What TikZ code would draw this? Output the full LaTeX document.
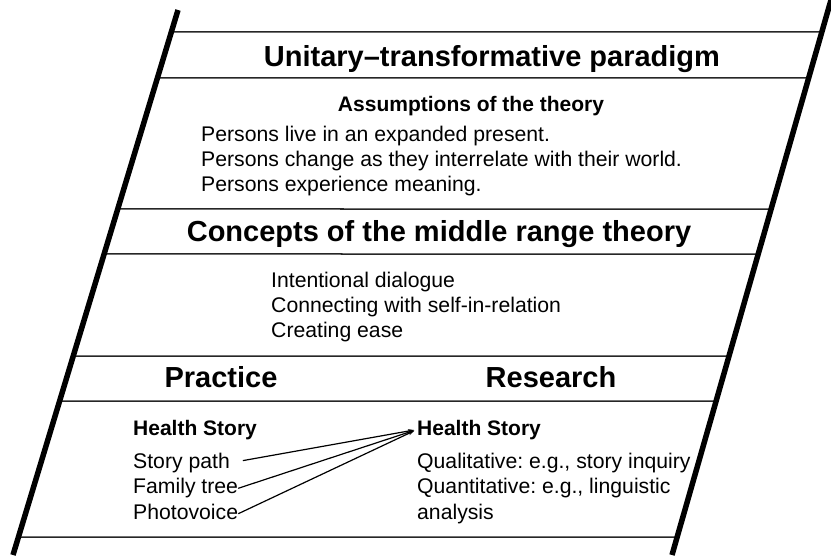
\documentclass[tikz,border=0pt]{standalone}
\usepackage{fontspec}
\setmainfont{Liberation Sans}
\usetikzlibrary{positioning,calc,arrows.meta}
\frenchspacing

\begin{document}
\begin{tikzpicture}[x=1pt,y=-1pt,
   wall/.style={line width=5.5pt},
   rule/.style={line width=1.5pt,draw=black!85},
   title/.style={font=\fontsize{29}{34}\selectfont\bfseries,inner sep=0pt},
   head/.style={font=\fontsize{21}{25}\selectfont\bfseries,inner sep=0pt,text height=15pt,text depth=4pt},
   item/.style={font=\fontsize{21.2}{25}\selectfont,inner sep=0pt,text height=15pt,text depth=4pt},
   link/.style={line width=1.2pt,-{Stealth[length=6pt,width=4pt]}},
   node distance=6pt]
   \useasboundingbox (0,0) rectangle (831,555);
   \coordinate (LT) at (178,10);
   \coordinate (LB) at (13,555);
   \coordinate (RT) at (831,0);
   \coordinate (RB) at (672,555);
   % rows
   \foreach \y in {32,78,209,254,356,401,537}
     \draw[rule] ($(LT)!{(\y-10)/545}!(LB)$) -- ($(RT)!{\y/555}!(RB)$);
   \draw[wall] (LT) -- (LB);
   \draw[wall] (RT) -- (RB);
   % paradigm
   \node (U) [title,anchor=base] at (492,66) {Unitary--transformative paradigm};
   \node (A) [head,anchor=base] at (471,111) {Assumptions of the theory};
   \node (A1) [item,anchor=base west] at (201,141) {Persons live in an expanded present.};
   \node (A2) [item,below=of A1.south west,anchor=north west] {Persons change as they interrelate with their world.};
   \node (A3) [item,below=of A2.south west,anchor=north west] {Persons experience meaning.};
   % middle range theory
   \node (C) [title,anchor=base] at (439,241) {Concepts of the middle range theory};
   \node (C1) [item,anchor=base west] at (271,287) {Intentional dialogue};
   \node (C2) [item,below=of C1.south west,anchor=north west] {Connecting with self-in-relation};
   \node (C3) [item,below=of C2.south west,anchor=north west] {Creating ease};
   % practice and research
   \node (P) [title,anchor=base] at (221,387) {Practice};
   \node (R) [title,anchor=base] at (551,387) {Research};
   \node (HP) [head,anchor=base west] at (133,435) {Health Story};
   \node (P1) [item,below=14pt of HP.south west,anchor=north west] {Story path};
   \node (P2) [item,below=of P1.south west,anchor=north west] {Family tree};
   \node (P3) [item,below=of P2.south west,anchor=north west] {Photovoice};
   \node (HR) [head,anchor=base west] at (417,435) {Health Story};
   \node (R1) [item,below=14pt of HR.south west,anchor=north west] {Qualitative: e.g., story inquiry};
   \node (R2) [item,below=of R1.south west,anchor=north west] {Quantitative: e.g., linguistic};
   \node (R3) [item,below=of R2.south west,anchor=north west] {analysis};
   \draw[link,shorten <=13pt,shorten >=3pt] (P1.east) -- (HR.west);
   \draw[link,shorten >=3pt] (P2.east) -- (HR.west);
   \draw[link,shorten >=3pt] (P3.east) -- (HR.west);
\end{tikzpicture}
\end{document}
